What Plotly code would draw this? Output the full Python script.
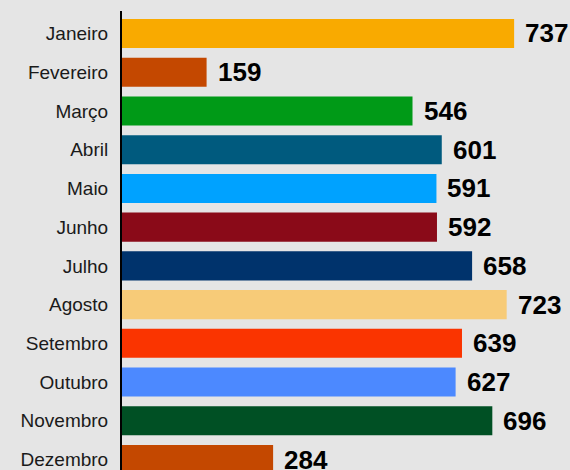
import plotly.graph_objects as go

months = ["Janeiro", "Fevereiro", "Março", "Abril", "Maio", "Junho", "Julho",
          "Agosto", "Setembro", "Outubro", "Novembro", "Dezembro"]
values = [737, 159, 546, 601, 591, 592, 658, 723, 639, 627, 696, 284]
colors = ["#F9AA00", "#C44800", "#009A17", "#005A7E", "#00A2FF", "#8A0A18",
          "#00336C", "#F7CB78", "#FA3400", "#4C89FF", "#005024", "#C44800"]

fig = go.Figure()
fig.add_trace(go.Bar(
    x=values, y=months, orientation="h",
    marker=dict(color=colors, line=dict(width=0)),
    hoverinfo="skip",
))

for m, v in zip(months, values):
    fig.add_annotation(
        x=v, y=m, text="<b>" + str(v) + "</b>", showarrow=False,
        xanchor="left", yanchor="middle", xshift=10, borderpad=0,
        font=dict(family="Liberation Sans, Arial, sans-serif", size=26, color="#000000"),
    )

fig.update_layout(
    width=570, height=470,
    margin=dict(l=122, r=0, t=11, b=0),
    paper_bgcolor="#E5E5E5", plot_bgcolor="#E5E5E5",
    bargap=0.25,
    showlegend=False,
    xaxis=dict(range=[0, 842], visible=False, showgrid=False, zeroline=False),
    yaxis=dict(
        categoryorder="array", categoryarray=months,
        range=[11.27, -0.58],
        showline=True, linecolor="#000000", linewidth=2,
        showgrid=False, zeroline=False, ticks="",
        ticklabelstandoff=8,
        tickfont=dict(family="Liberation Sans, Arial, sans-serif", size=19, color="#1a1a1a"),
    ),
)

fig.write_html(
    "out.html",
    config={"displayModeBar": False},
    post_script="document.body.style.margin='0';document.body.style.overflow='hidden';document.body.style.background='#E5E5E5';",
)
